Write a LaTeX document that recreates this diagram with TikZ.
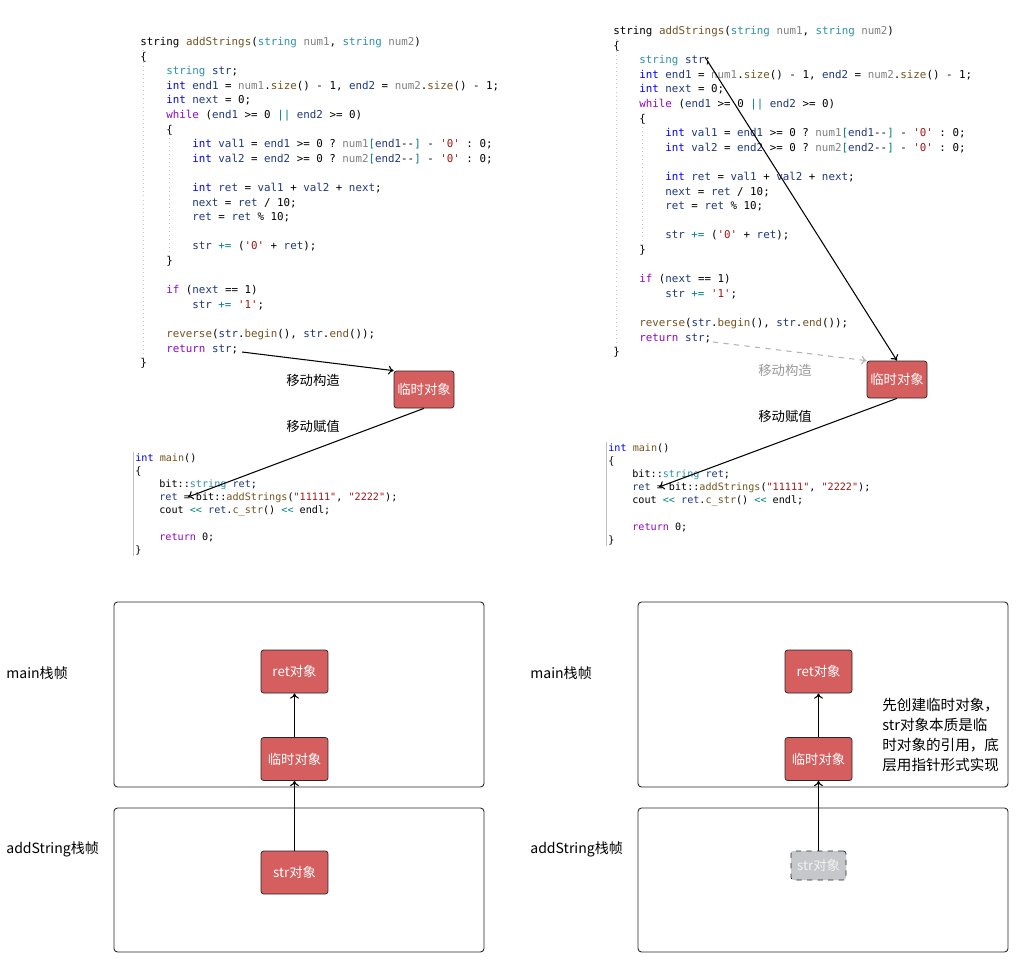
\documentclass[tikz,border=0pt]{standalone}
\usepackage{fontspec}
\setmonofont{DejaVu Sans Mono}
\newfontfamily\cjk{Noto Sans CJK SC}
\usetikzlibrary{arrows.meta}

\definecolor{kwblue}{HTML}{0000FF}
\definecolor{tyteal}{HTML}{2B91AF}
\definecolor{ctpurple}{HTML}{8F08C4}
\definecolor{fnbrown}{HTML}{74531F}
\definecolor{pagrey}{HTML}{808080}
\definecolor{lired}{HTML}{A31515}
\definecolor{opteal}{HTML}{008080}
\definecolor{vanavy}{HTML}{1F377F}
\definecolor{objred}{HTML}{D55E5E}
\definecolor{ghostgrey}{HTML}{C6C7CA}

\newcommand\ckw[1]{\textcolor{kwblue}{#1}}
\newcommand\cty[1]{\textcolor{tyteal}{#1}}
\newcommand\cct[1]{\textcolor{ctpurple}{#1}}
\newcommand\cfn[1]{\textcolor{fnbrown}{#1}}
\newcommand\cpa[1]{\textcolor{pagrey}{#1}}
\newcommand\cli[1]{\textcolor{lired}{#1}}
\newcommand\cop[1]{\textcolor{opteal}{#1}}
\newcommand\cva[1]{\textcolor{vanavy}{#1}}

% lines of addStrings: indent/text
\newcommand\fnlines{%
  0/{string \cfn{addStrings}(\cty{string} \cpa{num1}, \cty{string} \cpa{num2})},
  0/{\{},
  1/{\cty{string} \cva{str};},
  1/{\ckw{int} \cva{end1} = \cpa{num1}.\cfn{size}() - 1, \cva{end2} = \cpa{num2}.\cfn{size}() - 1;},
  1/{\ckw{int} \cva{next} = 0;},
  1/{\cct{while} (\cva{end1} >= 0 \cop{||} \cva{end2} >= 0)},
  1/{\{},
  2/{\ckw{int} \cva{val1} = \cva{end1} >= 0 ? \cpa{num1}\cop{[}\cva{end1}--\cop{]} - \cli{'0'} : 0;},
  2/{\ckw{int} \cva{val2} = \cva{end2} >= 0 ? \cpa{num2}\cop{[}\cva{end2}--\cop{]} - \cli{'0'} : 0;},
  0/{},
  2/{\ckw{int} \cva{ret} = \cva{val1} + \cva{val2} + \cva{next};},
  2/{\cva{next} = \cva{ret} / 10;},
  2/{\cva{ret} = \cva{ret} \% 10;},
  0/{},
  2/{\cva{str} \cop{+=} (\cli{'0'} + \cva{ret});},
  1/{\}},
  0/{},
  1/{\cct{if} (\cva{next} == 1)},
  2/{\cva{str} \cop{+=} \cli{'1'};},
  0/{},
  1/{\cfn{reverse}(\cva{str}.\cfn{begin}(), \cva{str}.\cfn{end}());},
  1/{\cct{return} \cva{str};},
  0/{\}}}

% lines of main
\newcommand\mainlines{%
  0/{\ckw{int} \cfn{main}()},
  0/{\{},
  1/{bit::\cty{string} \cva{ret};},
  1/{\cva{ret} = bit::\cfn{addStrings}(\cli{"11111"}, \cli{"2222"});},
  1/{cout \cop{<<} \cva{ret}.\cfn{c\_str}() \cop{<<} endl;},
  0/{},
  1/{\cct{return} 0;},
  0/{\}}}

\tikzset{
  codeline/.style={anchor=base west, inner sep=0, font=\ttfamily\fontsize{6.17}{7}\selectfont},
  mainline/.style={anchor=base west, inner sep=0, font=\ttfamily\fontsize{5.77}{7}\selectfont},
  guide/.style={black!22, line width=0.3pt, dotted},
  mainguide/.style={black!25, line width=0.5pt},
  objbox/.style={draw=black!85, fill=objred, rounded corners=1.5pt, text=white,
    inner sep=0, minimum width=1.34cm, minimum height=0.86cm,
    font=\cjk\fontsize{7.6}{9}\selectfont},
  tmpbox/.style={objbox, minimum width=1.2cm, minimum height=0.74cm},
  ghostbox/.style={objbox, dashed, fill=ghostgrey, text=white!95!black,
    minimum width=1.1cm, minimum height=0.58cm},
  frame/.style={draw=black!85, rounded corners=2pt, line width=0.5pt},
  lbl/.style={inner sep=0, font=\cjk\fontsize{7.6}{9}\selectfont},
  framelbl/.style={lbl, anchor=west, font=\cjk\fontsize{8}{10}\selectfont},
  flow/.style={-{To[length=3pt,width=5pt]}, line width=0.6pt},
  ghostflow/.style={flow, black!30, dashed},
}

\begin{document}
\begin{tikzpicture}[x=0.02cm, y=-0.02cm]
  \useasboundingbox[fill=white] (0,0) rectangle (1017,977);

  % ---- upper left: code ----
  \draw[guide] (143,50) -- (143,365);
  \draw[guide] (169,134) -- (169,263);
  \begin{scope}[shift={(140,45.5)}]
    \foreach \ind/\txt [count=\i] in \fnlines
      \node[codeline] (fa-\i) at (\ind*26, \i*14.6-14.6) {\txt};
  \end{scope}
  \draw[mainguide] (133,452) -- (133,556);
  \begin{scope}[shift={(135,461)}]
    \foreach \ind/\txt [count=\i] in \mainlines
      \node[mainline] (ma-\i) at (\ind*24, \i*13.2-13.2) {\txt};
  \end{scope}

  \node[tmpbox] (tmpL) at (424,389.5) {临时对象};
  \node[lbl] (ctorL) at (313,380) {移动构造};
  \node[lbl] (asgnL) at (313,426) {移动赋值};
  \coordinate (retL) at (242,352);
  \coordinate (eqL) at (188,497);
  \draw[flow] (retL) -- (tmpL.north west);
  \draw[flow] (tmpL.south) -- (eqL);

  % ---- upper right: code ----
  \draw[guide] (616,39) -- (616,355);
  \draw[guide] (642,123) -- (642,253);
  \begin{scope}[shift={(613,34.5)}]
    \foreach \ind/\txt [count=\i] in \fnlines
      \node[codeline] (fb-\i) at (\ind*26, \i*14.6-14.6) {\txt};
  \end{scope}
  \draw[mainguide] (606,442) -- (606,546);
  \begin{scope}[shift={(608,451)}]
    \foreach \ind/\txt [count=\i] in \mainlines
      \node[mainline] (mb-\i) at (\ind*24, \i*13.2-13.2) {\txt};
  \end{scope}

  \node[tmpbox] (tmpR) at (897,379.5) {临时对象};
  \node[lbl, text=black!40] (ctorR) at (785,370) {移动构造};
  \node[lbl] (asgnR) at (785,416) {移动赋值};
  \coordinate (strR) at (705,57);
  \coordinate (retR) at (713,342);
  \coordinate (eqR) at (659,487);
  \draw[flow] (strR) -- (tmpR.north);
  \draw[ghostflow] (retR) -- (tmpR.north west);
  \draw[flow] (tmpR.south) -- (eqR);

  % ---- lower left: stack frames ----
  \draw[frame] (114,602) rectangle (484,787);
  \draw[frame] (114,808) rectangle (484,952);
  \node[framelbl] (mainL) at (6,673) {main栈帧};
  \node[framelbl] (addL) at (6,849) {addString栈帧};
  \node[objbox] (retobjL) at (294.5,671.5) {ret对象};
  \node[objbox] (tmpobjL) at (294.5,759) {临时对象};
  \node[objbox] (strobjL) at (294.5,872.5) {str对象};
  \draw[flow] (strobjL) -- (tmpobjL);
  \draw[flow] (tmpobjL) -- (retobjL);

  % ---- lower right: stack frames ----
  \draw[frame] (638,602) rectangle (1008,787);
  \draw[frame] (638,808) rectangle (1008,952);
  \node[framelbl] (mainR) at (530,673) {main栈帧};
  \node[framelbl] (addR) at (530,849) {addString栈帧};
  \node[objbox] (retobjR) at (818.5,671.5) {ret对象};
  \node[objbox] (tmpobjR) at (818.5,759) {临时对象};
  \node[ghostbox] (strobjR) at (818.5,865.5) {str对象};
  \draw[flow] (strobjR) -- (tmpobjR);
  \draw[flow] (tmpobjR) -- (retobjR);
  \node[lbl, anchor=west, align=left, font=\cjk\fontsize{8.3}{11.3}\selectfont] (noteR) at (882,735)
    {先创建临时对象，\\str对象本质是临\\时对象的引用，底\\层用指针形式实现};
\end{tikzpicture}
\end{document}
